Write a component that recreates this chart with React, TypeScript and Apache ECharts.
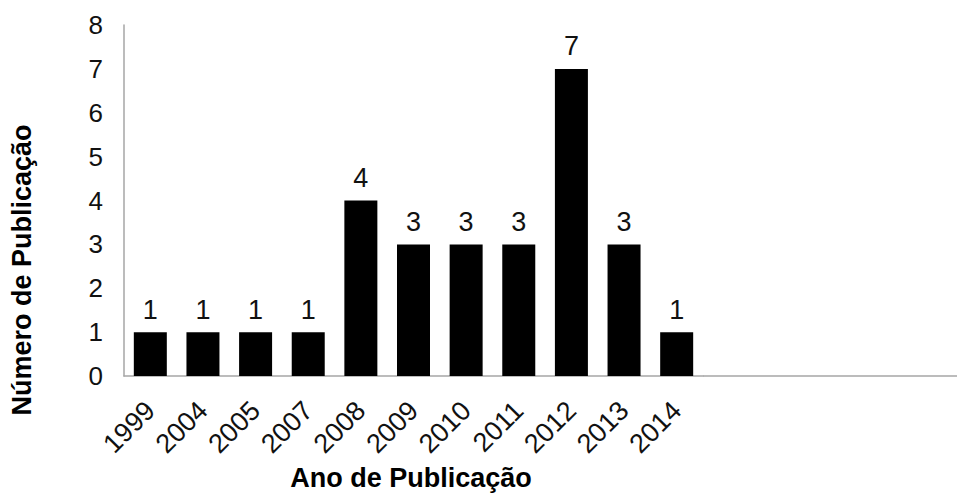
import React, { useEffect, useRef } from "react";
import * as echarts from "echarts";

const categories = ["1999", "2004", "2005", "2007", "2008", "2009", "2010", "2011", "2012", "2013", "2014"];
const values = [1, 1, 1, 1, 4, 3, 3, 3, 7, 3, 1];
const yTitle = "Número de Publicação";
const xTitle = "Ano de Publicação";

export default function App() {
  const ref = useRef<HTMLDivElement>(null);
  useEffect(() => {
    if (!ref.current) return;
    const chart = echarts.init(ref.current, null, { renderer: "svg" });
    const font = "Liberation Sans, Arial, sans-serif";
    chart.setOption({
      animation: false,
      backgroundColor: "#ffffff",
      grid: { left: 124, right: 254, top: 25, bottom: 117, containLabel: false },
      xAxis: {
        type: "category",
        data: categories,
        axisLine: { show: true, lineStyle: { color: "#a6a6a6", width: 1.5 } },
        axisTick: { show: false },
        axisLabel: {
          rotate: 45,
          interval: 0,
          margin: 30,
          fontSize: 27,
          color: "#111111",
          fontFamily: font,
        },
      },
      yAxis: {
        type: "value",
        min: 0,
        max: 8,
        interval: 1,
        splitLine: { show: false },
        axisLine: { show: true, lineStyle: { color: "#a6a6a6", width: 1.5 } },
        axisTick: { show: false },
        axisLabel: { margin: 21, fontSize: 26, color: "#111111", fontFamily: font },
      },
      series: [
        {
          type: "bar",
          data: values,
          barWidth: 33,
          itemStyle: { color: "#000000" },
          label: {
            show: true,
            position: "top",
            distance: 9,
            fontSize: 27,
            color: "#111111",
            fontFamily: font,
          },
        },
      ],
      graphic: [
        {
          type: "line",
          shape: { x1: 703, y1: 376, x2: 957, y2: 376 },
          style: { stroke: "#a6a6a6", lineWidth: 1.5 },
        },
        {
          type: "text",
          x: 22,
          y: 270,
          rotation: Math.PI / 2,
          style: {
            text: yTitle,
            font: `bold 27px ${font}`,
            fill: "#000000",
            textAlign: "center",
            textVerticalAlign: "middle",
          },
        },
        {
          type: "text",
          x: 411,
          y: 478,
          style: {
            text: xTitle,
            font: `bold 27px ${font}`,
            fill: "#000000",
            textAlign: "center",
            textVerticalAlign: "middle",
          },
        },
      ],
    });
    return () => chart.dispose();
  }, []);
  return (
    <div
      ref={ref}
      style={{ position: "fixed", left: 0, top: 0, width: 957, height: 493 }}
    />
  );
}
